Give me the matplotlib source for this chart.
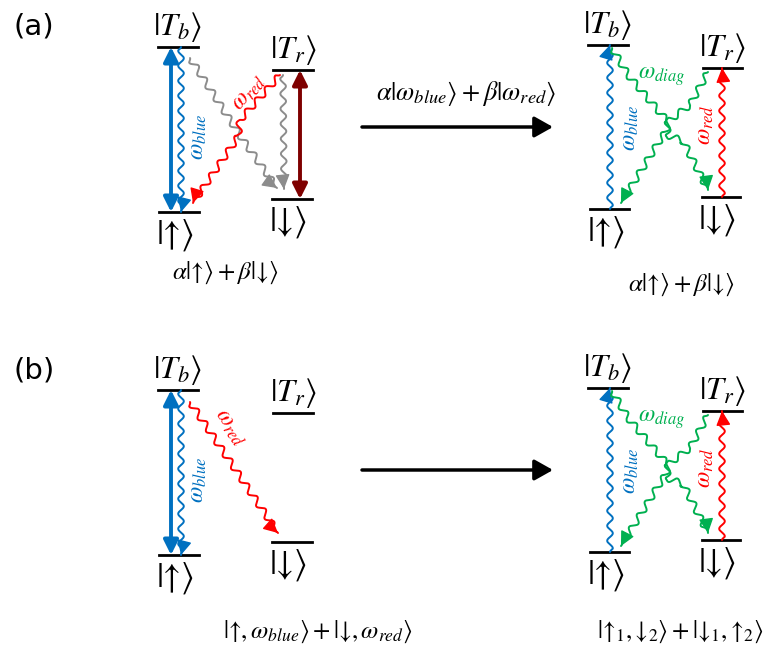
import numpy as np
import matplotlib
matplotlib.use("Agg")
import matplotlib.pyplot as plt
from matplotlib.patches import FancyArrowPatch

plt.rcParams['mathtext.fontset'] = 'stix'
plt.rcParams['font.family'] = ['DejaVu Sans']

W, H = 771, 649
BLUE, RED, DRED, GRAY, GREEN = '#0070C0', '#FF0000', '#7F0000', '#8C8C8C', '#00B050'

# panel vertical offsets (a) and (b)
panel_dy = [0, 343]
panel_tags = ['(a)', '(b)']

# energy levels: (x0, x1, y) for left & right diagrams (panel a reference)
levels_left = {'Tb': (158, 198, 47), 'Tr': (273, 313, 70), 'up': (159, 199, 212), 'dn': (272, 312, 199)}
levels_right = {'Tb': (588, 628, 45), 'Tr': (703, 742, 68), 'up': (590, 629, 209), 'dn': (702, 740, 197)}
level_labels = {'Tb': r'$|T_b\rangle$', 'Tr': r'$|T_r\rangle$',
                'up': r'$|↑\rangle$', 'dn': r'$|↓\rangle$'}

mid_labels = [r'$\alpha|\omega_{blue}\rangle+\beta|\omega_{red}\rangle$', '']
bottom_left = [r'$\alpha|↑\rangle+\beta|↓\rangle$',
               r'$|↑,\omega_{blue}\rangle+|↓,\omega_{red}\rangle$']
bottom_right = [r'$\alpha|↑\rangle+\beta|↓\rangle$',
                r'$|↑_1,↓_2\rangle+|↓_1,↑_2\rangle$']

fig = plt.figure(figsize=(W / 100, H / 100), dpi=100)
ax = fig.add_axes([0, 0, 1, 1])
ax.set_xlim(0, W)
ax.set_ylim(H, 0)
ax.axis('off')


def wavy(pts, color, amp=2.8, wl=15.0, lw=1.4, arrow=True):
    pts = np.asarray(pts, float)
    seg = np.diff(pts, axis=0)
    L = np.hypot(seg[:, 0], seg[:, 1])
    cum = np.concatenate([[0], np.cumsum(L)])
    tot = cum[-1]
    s = np.linspace(0, tot, int(tot * 4) + 2)
    x = np.interp(s, cum, pts[:, 0])
    y = np.interp(s, cum, pts[:, 1])
    dx = np.gradient(x)
    dy = np.gradient(y)
    n = np.hypot(dx, dy)
    nx, ny = -dy / n, dx / n
    taper = np.clip((tot - s) / 9.0, 0, 1) * np.clip(s / 3.0, 0, 1)
    off = amp * np.sin(2 * np.pi * s / wl) * taper
    xw, yw = x + nx * off, y + ny * off
    ax.plot(xw, yw, color=color, lw=lw, solid_capstyle='round')
    if arrow:
        k = 10
        ax.add_patch(FancyArrowPatch((xw[-k], yw[-k]), (xw[-1], yw[-1]),
                                     arrowstyle='-|>,head_length=0.8,head_width=0.4', mutation_scale=11,
                                     color=color, lw=1.0, shrinkA=0, shrinkB=0))


def dbl(x, y0, y1, color):
    ax.add_patch(FancyArrowPatch((x, y0), (x, y1), arrowstyle='<|-|>,head_length=0.8,head_width=0.4',
                                 mutation_scale=11, color=color, lw=2.8, shrinkA=0, shrinkB=0))


KET_FS = 23
SPIN_FS = 25
OM_FS = 17
TXT_FS = 18

for p, dy in enumerate(panel_dy):
    ax.text(34, 27 + dy, panel_tags[p], fontsize=21, ha='center', va='center', color='black')
    # levels and labels
    for lv, dct in ((0, levels_left), (1, levels_right)):
        for k, (x0, x1, y) in dct.items():
            yy = y + dy
            ax.plot([x0, x1], [yy, yy], color='black', lw=2)
            xc = (x0 + x1) / 2
            if k in ('Tb', 'Tr'):
                ax.text(xc, yy - 20, level_labels[k], fontsize=KET_FS, ha='center', va='center')
            else:
                ax.text(xc - 4, yy + 23, level_labels[k], fontsize=SPIN_FS, ha='center', va='center')

    L = levels_left
    # thick blue double arrow + blue wavy
    dbl(171, L['Tb'][2] + dy, L['up'][2] + dy, BLUE)
    wavy([(181, L['Tb'][2] + dy), (181, L['up'][2] + dy)], BLUE)
    ax.text(197, 137 + dy, r'$\omega_{blue}$', color=BLUE, fontsize=OM_FS, rotation=90, ha='center', va='center')
    if p == 0:
        dbl(300, L['Tr'][2] + dy, L['dn'][2] + dy, DRED)
        wavy([(190, 58), (230, 120), (243, 140), (277, 188)], GRAY, amp=3.2)
        wavy([(283, 75), (284, 189)], GRAY)
        wavy([(280, 75), (240, 120), (238, 137), (193, 203)], RED, amp=3.2)
        ax.text(248, 92, r'$\omega_{red}$', color=RED, fontsize=OM_FS, rotation=50, ha='center', va='center')
    else:
        wavy([(190, 402), (278, 533)], RED, amp=3.2)
        ax.text(231, 427, r'$\omega_{red}$', color=RED, fontsize=OM_FS, rotation=-55, ha='center', va='center')

    # right diagram
    wavy([(610, 209 + dy), (610, 45 + dy)], BLUE)
    ax.text(629, 128 + dy, r'$\omega_{blue}$', color=BLUE, fontsize=OM_FS, rotation=90, ha='center', va='center')
    wavy([(722, 197 + dy), (722, 68 + dy)], RED)
    ax.text(704, 125 + dy, r'$\omega_{red}$', color=RED, fontsize=OM_FS, rotation=90, ha='center', va='center')
    wavy([(612, 48 + dy), (628, 75 + dy), (668, 122 + dy), (667, 135 + dy), (683, 141 + dy), (708, 190 + dy)], GREEN, amp=3.2)
    wavy([(708, 72 + dy), (690, 105 + dy), (670, 120 + dy), (665, 133 + dy), (660, 140 + dy), (621, 203 + dy)], GREEN, amp=3.2)
    ax.text(662, 76 + dy, r'$\omega_{diag}$', color=GREEN, fontsize=OM_FS, ha='center', va='center')

    # middle arrow
    ax.add_patch(FancyArrowPatch((362, 127 + dy), (553, 127 + dy), arrowstyle='-|>,head_length=0.8,head_width=0.45',
                                 mutation_scale=14, color='black', lw=2.5, shrinkA=0, shrinkB=0))
    if mid_labels[p]:
        ax.text(466, 93 + dy, mid_labels[p], fontsize=19, ha='center', va='center')

# bottom texts
ax.text(225, 273, bottom_left[0], fontsize=TXT_FS, ha='center', va='center')
ax.text(681, 285, bottom_right[0], fontsize=TXT_FS, ha='center', va='center')
ax.text(318, 632, bottom_left[1], fontsize=TXT_FS, ha='center', va='center')
ax.text(680, 632, bottom_right[1], fontsize=TXT_FS, ha='center', va='center')

fig.savefig('out.png', dpi=100, facecolor='white')
